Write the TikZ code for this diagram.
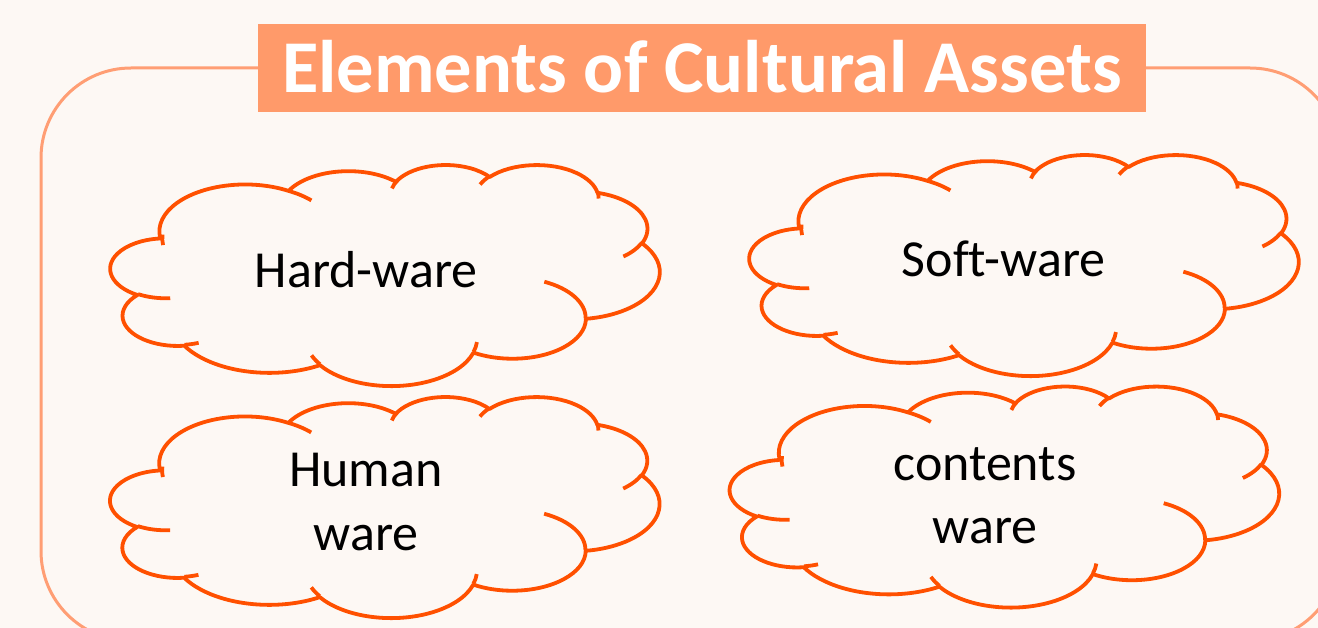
\documentclass[tikz,border=0pt]{standalone}
\usepackage{fontspec}
\setmainfont{Carlito}[Ligatures={NoCommon}]
\definecolor{bgc}{HTML}{FDF8F4}
\definecolor{framec}{HTML}{FF9E74}
\definecolor{titlec}{HTML}{FF9A6A}
\definecolor{cloudc}{HTML}{FF5000}
\newcommand\carc[4]{arc[x radius=#3, y radius=#4, start angle={cta(#1,#3,#4)}, end angle={cta(#1+#2,#3,#4)}]}
\newcommand\drawcloud[4]{%
  \pgfmathsetlengthmacro\cwx{#3pt/43.2}%
  \pgfmathsetlengthmacro\cwy{#4pt/43.2}%
  \begin{scope}[shift={(#1,#2)}, x=\cwx, y=-\cwy]
  \draw[cloudline, fill=bgc] (3.9,14.37) \carc{-190.4875}{123.7805}{6.753}{9.19}
     \carc{-144.1024}{89.9452}{5.333}{7.267}
     \carc{-145.8079}{99.723}{4.365}{5.945}
     \carc{-130.9861}{117.2417}{4.857}{6.595}
     \carc{-78.7089}{109.0269}{5.333}{7.273}
     \carc{-46.2673}{130.269}{6.775}{9.22}
     \carc{0.625}{114.0333}{5.785}{7.867}
     \carc{22.4516}{115.1726}{6.752}{9.215}
     \carc{66.2426}{75.711}{7.72}{10.543}
     \carc{-274.9421}{146.7356}{4.36}{5.918}
     \carc{-246.8285}{152.5189}{4.345}{5.945} -- cycle;
  \draw[cloudline] (4.693,26.177) \carc{86.742}{26.4295}{4.345}{5.945}
     (6.928,34.899) \carc{73.6105}{11.4475}{4.36}{5.918}
     (16.478,39.09) \carc{137.6242}{14.0811}{6.752}{9.215}
     (28.827,34.751) \carc{6.4533}{15.9984}{6.752}{9.215}
     (34.129,22.954) \carc{-70.2924}{70.9174}{5.785}{7.867}
     (41.798,15.354) \carc{30.318}{27.7515}{5.333}{7.273}
     (38.324,5.426) \carc{-13.7443}{14.8589}{4.857}{6.595}
     (29.078,3.952) \carc{-149.1815}{18.1954}{4.857}{6.595}
     (22.141,4.72) \carc{-163.4943}{19.0064}{4.365}{5.945}
     (14,5.192) \carc{-68.9167}{17.1424}{6.753}{9.19}
     (4.127,15.789) \carc{-190.4875}{17.2679}{6.753}{9.19};
  \end{scope}}
\tikzset{
  cloudline/.style={draw=cloudc, line width=3.8pt, line join=round},
  lbl/.style={font=\fontsize{52}{63.5}\selectfont, inner sep=0pt, text=black, align=center},
  titlebox/.style={fill=titlec, text=white, inner sep=0pt, minimum width=888pt, minimum height=88pt,
     font=\fontsize{74.5}{80}\selectfont\bfseries, text height=48.6pt, text depth=0pt},
  frame/.style={draw=framec, line width=3pt, rounded corners=90pt}
}
\begin{document}
\begin{tikzpicture}[x=1pt, y=-1pt,
  declare function={cta(\a,\rx,\ry)=\a+atan((\rx-\ry)*sin(\a)*cos(\a)/(\ry*cos(\a)*cos(\a)+\rx*sin(\a)*sin(\a)));}]
\useasboundingbox (0,0) rectangle (1318,628);
\fill[bgc] (0,0) rectangle (1318,628);
\draw[frame] (41,68) rectangle (1340,641);
\node[titlebox] (title) at (702,68) {Elements of Cultural Assets};
\drawcloud{110.6}{164.3}{549}{221}
\drawcloud{749.6}{154.3}{549}{221}
\drawcloud{110.4}{396.3}{549}{221}
\drawcloud{730}{385.8}{549}{221}
\node[lbl, anchor=base] (hard) at (366.3,287.3) {Hard-ware};
\node[lbl, anchor=base] (soft) at (1003.7,276.7) {Soft-ware};
\node[lbl] (human) at (366,502.2) {Human\\ware};
\node[lbl] (contents) at (985,495.5) {contents\\ware};
\end{tikzpicture}
\end{document}
